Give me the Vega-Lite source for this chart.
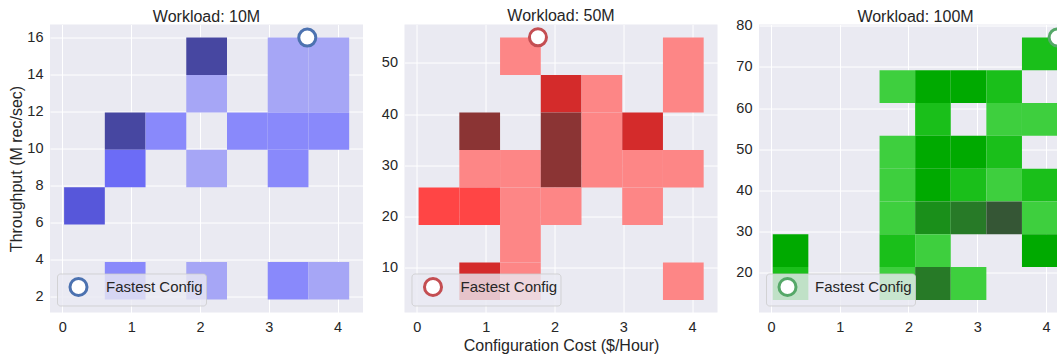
{
  "$schema": "https://vega.github.io/schema/vega-lite/v6.json",
  "background": "white",
  "padding": {"left": 8, "top": 7.5, "right": 0, "bottom": 0},
  "datasets": {
    "cells": [
      {"panel": "10M", "x0": 1.801, "x1": 2.393, "y0": 13.97, "y1": 16.0, "count": 5},
      {"panel": "10M", "x0": 2.985, "x1": 3.577, "y0": 13.97, "y1": 16.0, "count": 1},
      {"panel": "10M", "x0": 3.577, "x1": 4.169, "y0": 13.97, "y1": 16.0, "count": 1},
      {"panel": "10M", "x0": 1.801, "x1": 2.393, "y0": 11.95, "y1": 13.97, "count": 1},
      {"panel": "10M", "x0": 2.985, "x1": 3.577, "y0": 11.95, "y1": 13.97, "count": 1},
      {"panel": "10M", "x0": 3.577, "x1": 4.169, "y0": 11.95, "y1": 13.97, "count": 1},
      {"panel": "10M", "x0": 0.617, "x1": 1.209, "y0": 9.92, "y1": 11.95, "count": 5},
      {"panel": "10M", "x0": 1.209, "x1": 1.801, "y0": 9.92, "y1": 11.95, "count": 2},
      {"panel": "10M", "x0": 2.393, "x1": 2.985, "y0": 9.92, "y1": 11.95, "count": 2},
      {"panel": "10M", "x0": 2.985, "x1": 3.577, "y0": 9.92, "y1": 11.95, "count": 2},
      {"panel": "10M", "x0": 3.577, "x1": 4.169, "y0": 9.92, "y1": 11.95, "count": 2},
      {"panel": "10M", "x0": 0.617, "x1": 1.209, "y0": 7.9, "y1": 9.92, "count": 3},
      {"panel": "10M", "x0": 1.801, "x1": 2.393, "y0": 7.9, "y1": 9.92, "count": 1},
      {"panel": "10M", "x0": 2.985, "x1": 3.577, "y0": 7.9, "y1": 9.92, "count": 2},
      {"panel": "10M", "x0": 0.025, "x1": 0.617, "y0": 5.87, "y1": 7.9, "count": 4},
      {"panel": "10M", "x0": 0.617, "x1": 1.209, "y0": 1.82, "y1": 3.85, "count": 2},
      {"panel": "10M", "x0": 1.801, "x1": 2.393, "y0": 1.82, "y1": 3.85, "count": 1},
      {"panel": "10M", "x0": 2.985, "x1": 3.577, "y0": 1.82, "y1": 3.85, "count": 2},
      {"panel": "10M", "x0": 3.577, "x1": 4.169, "y0": 1.82, "y1": 3.85, "count": 1},

      {"panel": "50M", "x0": 1.209, "x1": 1.801, "y0": 47.66, "y1": 54.98, "count": 1},
      {"panel": "50M", "x0": 3.577, "x1": 4.169, "y0": 47.66, "y1": 54.98, "count": 1},
      {"panel": "50M", "x0": 1.801, "x1": 2.393, "y0": 40.35, "y1": 47.66, "count": 3},
      {"panel": "50M", "x0": 2.393, "x1": 2.985, "y0": 40.35, "y1": 47.66, "count": 1},
      {"panel": "50M", "x0": 3.577, "x1": 4.169, "y0": 40.35, "y1": 47.66, "count": 1},
      {"panel": "50M", "x0": 0.617, "x1": 1.209, "y0": 33.03, "y1": 40.35, "count": 4},
      {"panel": "50M", "x0": 1.801, "x1": 2.393, "y0": 33.03, "y1": 40.35, "count": 4},
      {"panel": "50M", "x0": 2.393, "x1": 2.985, "y0": 33.03, "y1": 40.35, "count": 1},
      {"panel": "50M", "x0": 2.985, "x1": 3.577, "y0": 33.03, "y1": 40.35, "count": 3},
      {"panel": "50M", "x0": 0.617, "x1": 1.209, "y0": 25.71, "y1": 33.03, "count": 1},
      {"panel": "50M", "x0": 1.209, "x1": 1.801, "y0": 25.71, "y1": 33.03, "count": 1},
      {"panel": "50M", "x0": 1.801, "x1": 2.393, "y0": 25.71, "y1": 33.03, "count": 4},
      {"panel": "50M", "x0": 2.393, "x1": 2.985, "y0": 25.71, "y1": 33.03, "count": 1},
      {"panel": "50M", "x0": 2.985, "x1": 3.577, "y0": 25.71, "y1": 33.03, "count": 1},
      {"panel": "50M", "x0": 3.577, "x1": 4.169, "y0": 25.71, "y1": 33.03, "count": 1},
      {"panel": "50M", "x0": 0.025, "x1": 0.617, "y0": 18.39, "y1": 25.71, "count": 2},
      {"panel": "50M", "x0": 0.617, "x1": 1.209, "y0": 18.39, "y1": 25.71, "count": 2},
      {"panel": "50M", "x0": 1.209, "x1": 1.801, "y0": 18.39, "y1": 25.71, "count": 1},
      {"panel": "50M", "x0": 1.801, "x1": 2.393, "y0": 18.39, "y1": 25.71, "count": 1},
      {"panel": "50M", "x0": 2.985, "x1": 3.577, "y0": 18.39, "y1": 25.71, "count": 1},
      {"panel": "50M", "x0": 1.209, "x1": 1.801, "y0": 11.08, "y1": 18.39, "count": 1},
      {"panel": "50M", "x0": 0.617, "x1": 1.209, "y0": 3.76, "y1": 11.08, "count": 3},
      {"panel": "50M", "x0": 1.209, "x1": 1.801, "y0": 3.76, "y1": 11.08, "count": 1},
      {"panel": "50M", "x0": 3.577, "x1": 4.169, "y0": 3.76, "y1": 11.08, "count": 1},

      {"panel": "100M", "x0": 3.651, "x1": 4.169, "y0": 69.19, "y1": 77.16, "count": 2},
      {"panel": "100M", "x0": 1.579, "x1": 2.097, "y0": 61.21, "y1": 69.19, "count": 1},
      {"panel": "100M", "x0": 2.097, "x1": 2.615, "y0": 61.21, "y1": 69.19, "count": 3},
      {"panel": "100M", "x0": 2.615, "x1": 3.133, "y0": 61.21, "y1": 69.19, "count": 3},
      {"panel": "100M", "x0": 3.133, "x1": 3.651, "y0": 61.21, "y1": 69.19, "count": 2},
      {"panel": "100M", "x0": 2.097, "x1": 2.615, "y0": 53.24, "y1": 61.21, "count": 2},
      {"panel": "100M", "x0": 3.133, "x1": 3.651, "y0": 53.24, "y1": 61.21, "count": 1},
      {"panel": "100M", "x0": 3.651, "x1": 4.169, "y0": 53.24, "y1": 61.21, "count": 1},
      {"panel": "100M", "x0": 1.579, "x1": 2.097, "y0": 45.26, "y1": 53.24, "count": 1},
      {"panel": "100M", "x0": 2.097, "x1": 2.615, "y0": 45.26, "y1": 53.24, "count": 3},
      {"panel": "100M", "x0": 2.615, "x1": 3.133, "y0": 45.26, "y1": 53.24, "count": 3},
      {"panel": "100M", "x0": 3.133, "x1": 3.651, "y0": 45.26, "y1": 53.24, "count": 2},
      {"panel": "100M", "x0": 1.579, "x1": 2.097, "y0": 37.29, "y1": 45.26, "count": 1},
      {"panel": "100M", "x0": 2.097, "x1": 2.615, "y0": 37.29, "y1": 45.26, "count": 3},
      {"panel": "100M", "x0": 2.615, "x1": 3.133, "y0": 37.29, "y1": 45.26, "count": 2},
      {"panel": "100M", "x0": 3.133, "x1": 3.651, "y0": 37.29, "y1": 45.26, "count": 1},
      {"panel": "100M", "x0": 3.651, "x1": 4.169, "y0": 37.29, "y1": 45.26, "count": 2},
      {"panel": "100M", "x0": 1.579, "x1": 2.097, "y0": 29.31, "y1": 37.29, "count": 1},
      {"panel": "100M", "x0": 2.097, "x1": 2.615, "y0": 29.31, "y1": 37.29, "count": 4},
      {"panel": "100M", "x0": 2.615, "x1": 3.133, "y0": 29.31, "y1": 37.29, "count": 5},
      {"panel": "100M", "x0": 3.133, "x1": 3.651, "y0": 29.31, "y1": 37.29, "count": 6},
      {"panel": "100M", "x0": 3.651, "x1": 4.169, "y0": 29.31, "y1": 37.29, "count": 1},
      {"panel": "100M", "x0": 0.025, "x1": 0.543, "y0": 21.34, "y1": 29.31, "count": 3},
      {"panel": "100M", "x0": 1.579, "x1": 2.097, "y0": 21.34, "y1": 29.31, "count": 2},
      {"panel": "100M", "x0": 2.097, "x1": 2.615, "y0": 21.34, "y1": 29.31, "count": 1},
      {"panel": "100M", "x0": 3.651, "x1": 4.169, "y0": 21.34, "y1": 29.31, "count": 3},
      {"panel": "100M", "x0": 0.025, "x1": 0.543, "y0": 13.36, "y1": 21.34, "count": 2},
      {"panel": "100M", "x0": 1.579, "x1": 2.097, "y0": 13.36, "y1": 21.34, "count": 1},
      {"panel": "100M", "x0": 2.097, "x1": 2.615, "y0": 13.36, "y1": 21.34, "count": 5},
      {"panel": "100M", "x0": 2.615, "x1": 3.133, "y0": 13.36, "y1": 21.34, "count": 1}
    ],
    "fastest": [
      {"panel": "10M", "cost": 3.56, "throughput": 16.0, "series": "Fastest Config"},
      {"panel": "50M", "cost": 1.76, "throughput": 55.0, "series": "Fastest Config"},
      {"panel": "100M", "cost": 4.17, "throughput": 77.16, "series": "Fastest Config"}
    ]
  },
  "config": {
    "font": "Liberation Sans",
    "view": {"fill": "#eaeaf2", "stroke": null},
    "axis": {
      "domain": false, "ticks": false, "grid": true, "gridColor": "white", "gridWidth": 1, "zindex": 0,
      "labelFont": "Liberation Sans", "labelFontSize": 14.5, "labelColor": "#262626",
      "titleFont": "Liberation Sans", "titleFontSize": 16, "titleFontWeight": "normal", "titleColor": "#262626",
      "labelPadding": 7, "labelFlush": false, "labelOverlap": false, "titlePadding": 2, "format": "d"
    },
    "axisX": {"labelPadding": 8, "titlePadding": 3.5},
    "title": {"font": "Liberation Sans", "fontSize": 16, "fontWeight": "normal", "color": "#262626", "offset": -1.5, "baseline": "alphabetic"},
    "legend": {
      "orient": "bottom-left", "offset": 7, "fillColor": "rgba(234,234,242,0.8)", "strokeColor": "rgba(204,204,204,0.8)",
      "strokeWidth": 1, "cornerRadius": 3, "padding": 3,
      "labelFont": "Liberation Sans", "labelFontSize": 15, "labelColor": "#262626",
      "symbolOffset": 8, "labelOffset": 17
    }
  },
  "bounds": "flush",
  "spacing": 41.5,
  "resolve": {"scale": {"color": "independent", "stroke": "independent"}, "legend": {"stroke": "independent", "color": "independent"}},
  "hconcat": [
    {
      "width": 313, "height": 288,
      "title": "Workload: 10M",
      "layer": [
        {
          "data": {"name": "cells"},
          "transform": [{"filter": "datum.panel == '10M'"}],
          "mark": {"type": "rect"},
          "encoding": {
            "x": {"field": "x0", "type": "quantitative", "scale": {"domain": [-0.18, 4.37], "nice": false, "zero": false}, "axis": {"values": [0, 1, 2, 3, 4], "title": null}},
            "x2": {"field": "x1"},
            "y": {"field": "y0", "type": "quantitative", "scale": {"domain": [1.11, 16.71], "nice": false, "zero": false}, "axis": {"values": [2, 4, 6, 8, 10, 12, 14, 16], "title": "Throughput (M rec/sec)"}},
            "y2": {"field": "y1"},
            "color": {"field": "count", "type": "ordinal", "scale": {"domain": [1, 2, 3, 4, 5], "range": ["#a6a6f6", "#8989fb", "#6c6cf6", "#5757da", "#4747a1"]}, "legend": null}
          }
        },
        {
          "data": {"name": "fastest"},
          "transform": [{"filter": "datum.panel == '10M'"}],
          "mark": {"type": "point", "shape": "circle", "filled": true, "fill": "white", "strokeWidth": 3, "size": 290, "opacity": 1},
          "encoding": {
            "x": {"field": "cost", "type": "quantitative"},
            "y": {"field": "throughput", "type": "quantitative"},
            "stroke": {"field": "series", "type": "nominal", "scale": {"range": ["#4c72b0"]}, "legend": {"title": null, "symbolType": "circle", "symbolFillColor": "white", "symbolStrokeWidth": 3, "symbolSize": 290}}
          }
        }
      ]
    },
    {
      "width": 313, "height": 288,
      "title": "Workload: 50M",
      "layer": [
        {
          "data": {"name": "cells"},
          "transform": [{"filter": "datum.panel == '50M'"}],
          "mark": {"type": "rect"},
          "encoding": {
            "x": {"field": "x0", "type": "quantitative", "scale": {"domain": [-0.18, 4.37], "nice": false, "zero": false}, "axis": {"values": [0, 1, 2, 3, 4], "title": "Configuration Cost ($/Hour)"}},
            "x2": {"field": "x1"},
            "y": {"field": "y0", "type": "quantitative", "scale": {"domain": [1.3, 57.5], "nice": false, "zero": false}, "axis": {"values": [10, 20, 30, 40, 50], "title": null}},
            "y2": {"field": "y1"},
            "color": {"field": "count", "type": "ordinal", "scale": {"domain": [1, 2, 3, 4], "range": ["#fd8686", "#ff4545", "#d42b2b", "#8b3434"]}, "legend": null}
          }
        },
        {
          "data": {"name": "fastest"},
          "transform": [{"filter": "datum.panel == '50M'"}],
          "mark": {"type": "point", "shape": "circle", "filled": true, "fill": "white", "strokeWidth": 3, "size": 290, "opacity": 1},
          "encoding": {
            "x": {"field": "cost", "type": "quantitative"},
            "y": {"field": "throughput", "type": "quantitative"},
            "stroke": {"field": "series", "type": "nominal", "scale": {"range": ["#c44e52"]}, "legend": {"title": null, "symbolType": "circle", "symbolFillColor": "white", "symbolStrokeWidth": 3, "symbolSize": 290}}
          }
        }
      ]
    },
    {
      "width": 300, "height": 288,
      "title": {"text": "Workload: 100M", "dx": 6.5, "offset": -7.5},
      "layer": [
        {
          "data": {"name": "cells"},
          "transform": [{"filter": "datum.panel == '100M'"}],
          "mark": {"type": "rect"},
          "encoding": {
            "x": {"field": "x0", "type": "quantitative", "scale": {"domain": [-0.175, 4.19], "nice": false, "zero": false}, "axis": {"values": [0, 1, 2, 3, 4], "title": null}},
            "x2": {"field": "x1"},
            "y": {"field": "y0", "type": "quantitative", "scale": {"domain": [10.3, 80.3], "nice": false, "zero": false}, "axis": {"values": [20, 30, 40, 50, 60, 70, 80], "title": null}},
            "y2": {"field": "y1"},
            "color": {"field": "count", "type": "ordinal", "scale": {"domain": [1, 2, 3, 4, 5, 6], "range": ["#3ecf3e", "#1abf1a", "#00aa00", "#1a8f1a", "#277a27", "#355635"]}, "legend": null}
          }
        },
        {
          "data": {"name": "fastest"},
          "transform": [{"filter": "datum.panel == '100M'"}],
          "mark": {"type": "point", "shape": "circle", "filled": true, "fill": "white", "strokeWidth": 3, "size": 290, "opacity": 1, "clip": true},
          "encoding": {
            "x": {"field": "cost", "type": "quantitative"},
            "y": {"field": "throughput", "type": "quantitative"},
            "stroke": {"field": "series", "type": "nominal", "scale": {"range": ["#55a868"]}, "legend": {"title": null, "symbolType": "circle", "symbolFillColor": "white", "symbolStrokeWidth": 3, "symbolSize": 290}}
          }
        }
      ]
    }
  ]
}
